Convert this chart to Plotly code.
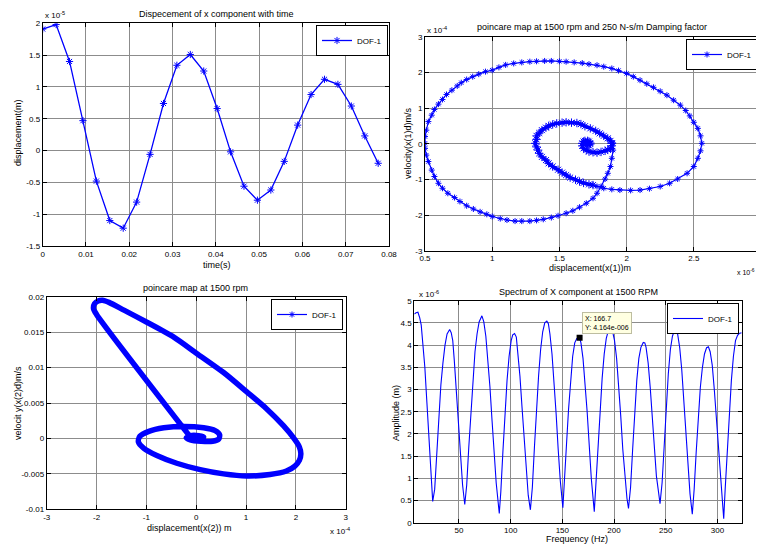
import plotly.graph_objects as go

# ---------------- data ----------------
# Subplot 1: displacement vs time (values in units of 1e-5 m)
time_s = [0.0, 0.0031, 0.0062, 0.0093, 0.0124, 0.0155, 0.0186, 0.0217, 0.0248, 0.0279,
          0.0310, 0.0341, 0.0372, 0.0403, 0.0434, 0.0465, 0.0496, 0.0527, 0.0558, 0.0589,
          0.0620, 0.0651, 0.0682, 0.0713, 0.0744, 0.0775]
disp_e5 = [1.91, 1.98, 1.40, 0.47, -0.48, -1.10, -1.22, -0.81, -0.06, 0.74,
           1.34, 1.51, 1.25, 0.66, -0.02, -0.56, -0.78, -0.62, -0.17, 0.40,
           0.88, 1.12, 1.04, 0.70, 0.23, -0.20]

# Subplot 2: poincare map x(1) (units 1e-6 m) vs velocity (units 1e-4 m/s)
p1_x = [1.90, 1.90, 1.89, 1.88, 1.86, 1.84, 1.81, 1.78, 1.75, 1.70, 1.65, 1.60, 1.55, 1.49, 1.44,
        1.38, 1.33, 1.28, 1.22, 1.17, 1.11, 1.06, 1.00, 0.96, 0.91, 0.86, 0.81, 0.76, 0.72, 0.67,
        0.63, 0.60, 0.57, 0.55, 0.525, 0.51, 0.50, 0.50, 0.50, 0.51, 0.525, 0.55, 0.57, 0.60, 0.63,
        0.66, 0.70, 0.74, 0.77, 0.81, 0.855, 0.90, 0.95, 1.00, 1.05, 1.10, 1.16, 1.22, 1.28, 1.33,
        1.39, 1.44, 1.50, 1.55, 1.61, 1.67, 1.72, 1.78, 1.83, 1.89, 1.94, 2.00, 2.05, 2.10, 2.15,
        2.20, 2.25, 2.30, 2.35, 2.40, 2.44, 2.47, 2.50, 2.53, 2.55, 2.56, 2.55, 2.53, 2.50, 2.45,
        2.38, 2.32, 2.25, 2.17, 2.10, 2.03, 1.95, 1.89, 1.83, 1.78,
        1.75, 1.72, 1.68, 1.65, 1.62, 1.58, 1.55, 1.52, 1.49, 1.45, 1.42, 1.40, 1.37, 1.35, 1.34,
        1.33, 1.32, 1.33, 1.33, 1.35, 1.37, 1.40, 1.42, 1.45, 1.48, 1.52, 1.55, 1.59, 1.63, 1.66,
        1.69, 1.73, 1.77, 1.80, 1.83, 1.86, 1.88, 1.89, 1.89, 1.88, 1.86, 1.84, 1.81, 1.78, 1.75,
        1.72, 1.70, 1.68, 1.67, 1.67, 1.68, 1.69, 1.71, 1.72, 1.73, 1.73, 1.72, 1.71, 1.70, 1.71]
p1_v = [0.02, -0.18, -0.41, -0.64, -0.83, -0.99, -1.20, -1.39, -1.53, -1.67, -1.78, -1.88, -1.95, -2.02, -2.07,
        -2.12, -2.15, -2.17, -2.17, -2.17, -2.14, -2.10, -2.04, -1.98, -1.91, -1.83, -1.74, -1.62, -1.51, -1.39,
        -1.25, -1.11, -0.92, -0.74, -0.50, -0.32, -0.13, 0.01, 0.20, 0.38, 0.62, 0.80, 0.96, 1.11, 1.24,
        1.38, 1.50, 1.62, 1.71, 1.80, 1.88, 1.95, 2.02, 2.06, 2.14, 2.21, 2.25, 2.28, 2.30, 2.31,
        2.32, 2.32, 2.31, 2.30, 2.28, 2.26, 2.23, 2.20, 2.16, 2.11, 2.05, 1.97, 1.88, 1.78, 1.68,
        1.58, 1.47, 1.36, 1.22, 1.08, 0.93, 0.78, 0.60, 0.43, 0.22, 0.01, -0.20, -0.41, -0.64, -0.83,
        -0.99, -1.11, -1.20, -1.26, -1.30, -1.31, -1.30, -1.28, -1.25, -1.20,
        -1.16, -1.14, -1.10, -1.06, -1.01, -0.95, -0.88, -0.81, -0.73, -0.64, -0.55, -0.46, -0.37, -0.27, -0.18,
        -0.09, 0.01, 0.12, 0.22, 0.30, 0.38, 0.45, 0.50, 0.54, 0.57, 0.59, 0.60, 0.59, 0.58, 0.55,
        0.49, 0.43, 0.36, 0.29, 0.22, 0.15, 0.08, 0.01, -0.06, -0.13, -0.17, -0.20, -0.23, -0.25, -0.24,
        -0.22, -0.18, -0.13, -0.06, 0.01, 0.06, 0.08, 0.08, 0.06, 0.02, -0.01, -0.03, -0.02, 0.00, 0.01]

# Subplot 3: poincare map x(2) (units 1e-4 m) vs velocity (m/s)
p2_x = [-0.15, -2.00, -2.06, -2.04, -1.97, -1.88, -1.75, -1.45, -0.99, -0.45, 0.01, 0.55, 1.01, 1.41,
        1.75, 1.95, 2.07, 2.10, 2.07, 1.98, 1.81, 1.48, 1.01, 0.55, 0.08, -0.39, -0.79, -1.05, -1.16,
        -1.13, -0.95, -0.65, -0.25, 0.15, 0.38, 0.47, 0.45, 0.33, 0.10, -0.12, -0.20, -0.12, 0.05,
        0.15, 0.10, 0.00]
p2_v = [0.0005, 0.0175, 0.0183, 0.0190, 0.0194, 0.0195, 0.0192, 0.0181, 0.0164, 0.0143, 0.0120, 0.0093, 0.0066, 0.0042,
        0.0018, 0.0001, -0.0012, -0.0022, -0.0031, -0.0039, -0.0046, -0.0051, -0.0053, -0.0050, -0.0044, -0.0035, -0.0024, -0.0014, -0.0005,
        0.0003, 0.0010, 0.0015, 0.0017, 0.0015, 0.0011, 0.0005, -0.0001, -0.0004, -0.0004, -0.0002, 0.0001, 0.0004, 0.0004,
        0.0002, -0.0001, 0.0000]

# Subplot 4: spectrum (frequency Hz, amplitude in units of 1e-6 m)
freq_hz = [6.8, 8.5, 10.3, 12.0, 13.5, 15.0, 17.0, 19.0, 21.0, 23.0, 24.6,
           26.5, 28.5, 30.5, 32.5, 34.5, 36.5, 38.5, 41.0, 42.5, 44.0, 45.5, 47.5, 49.5, 51.5, 53.5, 55.6,
           57.5, 59.5, 61.5, 63.5, 65.5, 67.5, 69.5, 72.2, 74.0, 76.0, 78.0, 80.0, 82.0, 84.0, 86.0, 89.0,
           90.5, 92.5, 94.5, 96.5, 98.5, 100.5, 102.0, 103.8, 105.5, 107.0, 109.0, 111.0, 113.0, 115.0, 117.0, 119.1,
           121.0, 123.0, 125.0, 127.0, 129.0, 131.0, 133.0, 135.0, 136.5, 138.0, 140.0, 142.0, 144.0, 146.0, 148.0, 150.5,
           152.0, 154.0, 156.0, 158.0, 160.0, 162.0, 164.0, 166.7, 168.0, 170.0, 172.0, 174.0, 176.0, 178.0, 180.9,
           182.5, 184.5, 186.5, 188.5, 190.5, 192.5, 194.5, 196.8, 198.5, 200.5, 202.5, 204.5, 206.5, 208.5, 210.5, 212.5, 214.0,
           216.0, 218.0, 220.0, 222.0, 224.0, 226.0, 228.3, 229.8, 231.0, 233.0, 235.0, 237.0, 239.0, 241.0, 243.0, 244.5,
           246.5, 248.5, 250.5, 252.5, 254.5, 256.5, 258.5, 259.8, 261.5, 263.5, 265.5, 267.5, 269.5, 271.5, 273.5, 275.7,
           277.5, 279.5, 281.5, 283.5, 285.5, 287.5, 289.5, 291.3, 293.0, 295.0, 297.0, 299.0, 301.0, 303.0, 304.5, 306.1,
           307.5, 309.5, 311.5, 313.5, 315.5, 317.5, 319.5, 321.0, 323.5]
amp_e6 = [4.70, 4.73, 4.74, 4.62, 4.45, 4.10, 3.50, 2.70, 1.80, 0.95, 0.48,
          0.75, 1.60, 2.40, 3.10, 3.60, 4.00, 4.25, 4.35, 4.28, 4.10, 3.65, 2.95, 2.20, 1.45, 0.85, 0.41,
          0.85, 1.70, 2.50, 3.25, 3.85, 4.25, 4.52, 4.66, 4.53, 4.20, 3.70, 3.05, 2.30, 1.55, 0.90, 0.21,
          0.70, 1.60, 2.45, 3.20, 3.75, 4.10, 4.23, 4.26, 4.18, 3.85, 3.30, 2.60, 1.85, 1.15, 0.62, 0.29,
          0.80, 1.70, 2.55, 3.30, 3.90, 4.30, 4.50, 4.54, 4.48, 4.25, 3.80, 3.20, 2.45, 1.65, 0.95, 0.34,
          0.85, 1.75, 2.55, 3.25, 3.75, 4.05, 4.15, 4.164, 4.05, 3.70, 3.15, 2.50, 1.75, 1.00, 0.25,
          0.90, 1.75, 2.55, 3.25, 3.80, 4.15, 4.32, 4.38, 4.32, 4.10, 3.70, 3.10, 2.40, 1.65, 1.00, 0.55, 0.32,
          0.80, 1.65, 2.50, 3.20, 3.70, 3.95, 4.06, 4.05, 3.95, 3.60, 3.05, 2.40, 1.70, 1.05, 0.70, 0.43,
          0.90, 1.80, 2.65, 3.35, 3.90, 4.20, 4.34, 4.36, 4.25, 3.95, 3.45, 2.80, 2.05, 1.30, 0.65, 0.19,
          0.75, 1.60, 2.40, 3.05, 3.50, 3.80, 3.94, 3.96, 3.85, 3.55, 3.00, 2.35, 1.60, 0.90, 0.45, 0.09,
          0.75, 1.65, 2.50, 3.20, 3.75, 4.10, 4.22, 4.26, 4.28]

datatip_x = [166.7]
datatip_y = [4.164]

# tick values / labels
t1_xt = [0, 0.01, 0.02, 0.03, 0.04, 0.05, 0.06, 0.07, 0.08]
t1_xl = ["0", "0.01", "0.02", "0.03", "0.04", "0.05", "0.06", "0.07", "0.08"]
t1_yt = [-1.5, -1, -0.5, 0, 0.5, 1, 1.5, 2]
t1_yl = ["-1.5", "-1", "-0.5", "0", "0.5", "1", "1.5", "2"]
t2_xt = [0.5, 1, 1.5, 2, 2.5, 3]
t2_xl = ["0.5", "1", "1.5", "2", "2.5", "3"]
t2_yt = [-3, -2, -1, 0, 1, 2, 3]
t2_yl = ["-3", "-2", "-1", "0", "1", "2", "3"]
t3_xt = [-3, -2, -1, 0, 1, 2, 3]
t3_xl = ["-3", "-2", "-1", "0", "1", "2", "3"]
t3_yt = [-0.01, -0.005, 0, 0.005, 0.01, 0.015, 0.02]
t3_yl = ["-0.01", "-0.005", "0", "0.005", "0.01", "0.015", "0.02"]
t4_xt = [50, 100, 150, 200, 250, 300]
t4_xl = ["50", "100", "150", "200", "250", "300"]
t4_yt = [0, 0.5, 1, 1.5, 2, 2.5, 3, 3.5, 4, 4.5, 5]
t4_yl = ["0", "0.5", "1", "1.5", "2", "2.5", "3", "3.5", "4", "4.5", "5"]

# ---------------- figure ----------------
# The page body keeps the browser's default 8px margin, so the figure is
# made 8px smaller and every position is measured from that offset.
OFF = 8
W, H = 764 - OFF, 545 - OFF
FONT = "Liberation Sans, Arial, sans-serif"
BLUE = "#0000FF"
INNER_START = 100  # where the dense inner spiral of the x(1) map begins


def px_x(p):
    return (p - OFF) / W


def px_y(p):
    return 1 - (p - OFF) / H


def axis(domain, rng, tv, tt, anchor):
    return dict(domain=domain, range=rng, tickmode="array", tickvals=tv, ticktext=tt,
                anchor=anchor, automargin=False,
                ticks="inside", ticklen=4, tickwidth=1, tickcolor="black",
                showline=True, linecolor="black", linewidth=1, mirror="ticks",
                showgrid=True, gridcolor="rgb(140,140,140)", gridwidth=1, zeroline=False,
                tickfont=dict(size=8, color="black", family=FONT), fixedrange=True)


fig = go.Figure()

star = dict(symbol="asterisk-open", size=6, color=BLUE, line=dict(width=1, color=BLUE))

# subplot 1
fig.add_trace(go.Scatter(x=time_s, y=disp_e5, mode="lines+markers", name="DOF-1",
                         line=dict(color=BLUE, width=1.3), marker=star,
                         xaxis="x", yaxis="y", legend="legend"))
# subplot 2: outer loops (spaced markers) and dense inner spiral
fig.add_trace(go.Scatter(x=p1_x[:INNER_START + 1], y=p1_v[:INNER_START + 1],
                         mode="lines+markers", name="DOF-1",
                         line=dict(color=BLUE, width=1.2), marker=dict(star, size=5),
                         xaxis="x2", yaxis="y2", legend="legend2"))
fig.add_trace(go.Scatter(x=p1_x[INNER_START:], y=p1_v[INNER_START:],
                         mode="lines+markers", showlegend=False,
                         line=dict(color=BLUE, width=3.5, shape="spline", smoothing=0.6),
                         marker=dict(star, size=7),
                         xaxis="x2", yaxis="y2"))
# subplot 3
fig.add_trace(go.Scatter(x=p2_x, y=p2_v, mode="lines", showlegend=False,
                         line=dict(color=BLUE, width=5.5, shape="spline", smoothing=0.7),
                         xaxis="x3", yaxis="y3"))
fig.add_trace(go.Scatter(x=[None], y=[None], mode="lines+markers", name="DOF-1",
                         line=dict(color=BLUE, width=1.2), marker=dict(star, size=5),
                         xaxis="x3", yaxis="y3", legend="legend3"))
# subplot 4
fig.add_trace(go.Scatter(x=freq_hz, y=amp_e6, mode="lines", name="DOF-1",
                         line=dict(color=BLUE, width=1.1),
                         xaxis="x4", yaxis="y4", legend="legend4"))
fig.add_trace(go.Scatter(x=datatip_x, y=datatip_y, mode="markers", showlegend=False,
                         marker=dict(symbol="square", size=6, color="black"),
                         xaxis="x4", yaxis="y4"))

layout = dict(
    template="none",
    width=W, height=H, autosize=False,
    margin=dict(l=0, r=0, t=0, b=0, pad=0, autoexpand=False),
    paper_bgcolor="white", plot_bgcolor="white",
    font=dict(family=FONT, size=9, color="black"),
    xaxis=axis([px_x(42.7), px_x(389)], [0, 0.08], t1_xt, t1_xl, "y"),
    yaxis=axis([px_y(246), px_y(23.3)], [-1.5, 2], t1_yt, t1_yl, "x"),
    xaxis2=axis([px_x(425), px_x(761)], [0.5, 3], t2_xt, t2_xl, "y2"),
    yaxis2=axis([px_y(250.7), px_y(36.7)], [-3, 3], t2_yt, t2_yl, "x2"),
    xaxis3=axis([px_x(46.7), px_x(345.7)], [-3, 3], t3_xt, t3_xl, "y3"),
    yaxis3=axis([px_y(509.3), px_y(296.7)], [-0.01, 0.02], t3_yt, t3_yl, "x3"),
    xaxis4=axis([px_x(414.3), px_x(741.7)], [6.8, 323.5], t4_xt, t4_xl, "y4"),
    yaxis4=axis([px_y(522.7), px_y(300.7)], [0, 5], t4_yt, t4_yl, "x4"),
)

leg_common = dict(bgcolor="white", bordercolor="black", borderwidth=1,
                  font=dict(size=8, family=FONT, color="black"),
                  xanchor="right", yanchor="top", itemwidth=30,
                  tracegroupgap=0)
layout["legend"] = dict(leg_common, x=px_x(388), y=px_y(25))
layout["legend2"] = dict(leg_common, x=px_x(758), y=px_y(39))
layout["legend3"] = dict(leg_common, x=px_x(343), y=px_y(299))
layout["legend4"] = dict(leg_common, x=px_x(739), y=px_y(303))

fig.update_layout(**layout)


def ann(text, x, y, size=9, angle=0, xanchor="center", yanchor="middle", **kw):
    fig.add_annotation(text=text, x=px_x(x), y=px_y(y), xref="paper", yref="paper",
                       showarrow=False, textangle=angle, xanchor=xanchor, yanchor=yanchor,
                       font=dict(size=size, family=FONT, color="black"), **kw)


# titles
ann("Dispecement of x component with time", 216, 14)
ann("poincare map at 1500 rpm and 250 N-s/m Damping factor", 592, 27)
ann("poincare map at 1500 rpm", 195, 288)
ann("Spectrum of X component at 1500 RPM", 578, 292)
# axis labels
ann("time(s)", 217, 265)
ann("displacement(m)", 18, 133, angle=-90)
ann("displacement(x(1))m", 590, 268)
ann("velocity(x(1)d)m/s", 408, 143, angle=-90)
ann("displacement(x(2)) m", 189, 528)
ann("velocit y(x(2)d)m/s", 18, 403, angle=-90)
ann("Frequency (Hz)", 577, 539)
ann("Amplitude (m)", 396, 413, angle=-90)
# exponent labels
ann("x 10<sup>-5</sup>", 43, 15, size=8, xanchor="left")
ann("x 10<sup>-4</sup>", 425, 30, size=8, xanchor="left")
ann("x 10<sup>-6</sup>", 735, 272, size=7, xanchor="left")
ann("x 10<sup>-4</sup>", 328, 531, size=8, xanchor="left")
ann("x 10<sup>-6</sup>", 417, 294, size=8, xanchor="left")
# data tip
ann("X: 166.7<br>Y: 4.164e-006", 582, 312, size=7, xanchor="left", yanchor="top",
    align="left", bgcolor="#FFFFE1", bordercolor="#BDBDA0", borderwidth=1, borderpad=2)

fig.write_html("out.html")
